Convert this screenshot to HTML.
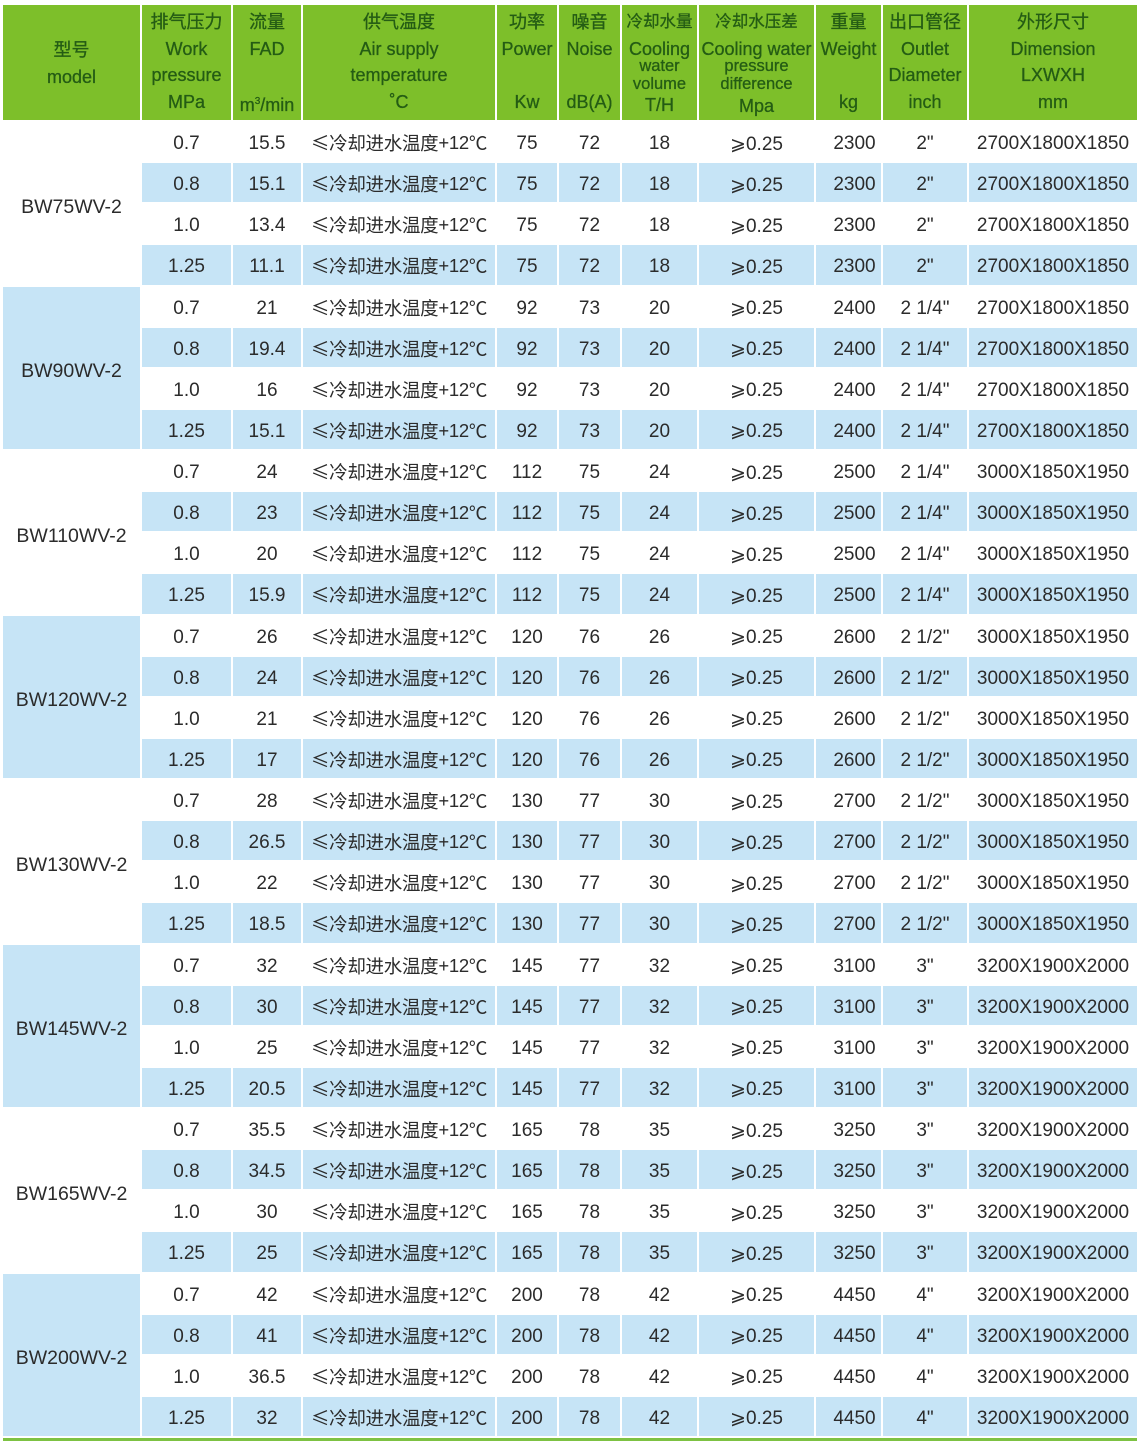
<!DOCTYPE html>
<html><head><meta charset="utf-8">
<style>
*{margin:0;padding:0;box-sizing:border-box}
body{width:1140px;height:1451px;background:#fff;position:relative;overflow:hidden;font-family:"Liberation Sans","Noto Sans CJK SC",sans-serif}
.g{position:absolute;left:3px;top:5px;display:grid;grid-template-columns:137px 89px 68px 192px 60px 61px 75px 115px 65px 84px 168px;grid-template-rows:115px repeat(32,39.125px);gap:2px}
.h{background:#7dbf2a;color:#245c14;position:relative;font-size:18px;text-align:center;-webkit-text-stroke:0.3px #245c14}
.h div{position:absolute;left:-4px;right:-4px;height:20px;line-height:20px;white-space:nowrap}
.h .s{font-size:16.5px}
.c{display:flex;align-items:center;justify-content:center;font-size:19px;color:#2b2b2b;white-space:nowrap;padding-top:5px}
.b{background:#c6e4f6}
.m{grid-row:span 4;padding-top:8px;font-size:19.5px}
.t{font-size:18.5px;letter-spacing:-0.3px;font-family:"Noto Sans CJK SC","Liberation Sans",sans-serif;padding-top:3px}
.t span{font-family:"Liberation Sans",sans-serif}
.w{padding-left:12px}
.line{position:absolute;left:3px;top:1438px;width:1134px;height:3px;background:#7dc242}
</style></head><body>
<div class="g">
<div class="h"><div style="top:35px">型号</div><div style="top:62px">model</div></div>
<div class="h"><div style="top:7px">排气压力</div><div style="top:34px">Work</div><div style="top:60px">pressure</div><div style="top:87px">MPa</div></div>
<div class="h"><div style="top:7px">流量</div><div style="top:34px">FAD</div><div style="top:87px">m<sup style="font-size:10px">3</sup>/min</div></div>
<div class="h"><div style="top:7px">供气温度</div><div style="top:34px">Air supply</div><div style="top:60px">temperature</div><div style="top:87px">˚C</div></div>
<div class="h"><div style="top:7px">功率</div><div style="top:34px">Power</div><div style="top:87px">Kw</div></div>
<div class="h"><div style="top:7px">噪音</div><div style="top:34px">Noise</div><div style="top:87px">dB(A)</div></div>
<div class="h"><div style="top:7px" class="s">冷却水量</div><div style="top:34px">Cooling</div><div style="top:51px" class="s">water</div><div style="top:69px" class="s">volume</div><div style="top:90px">T/H</div></div>
<div class="h"><div style="top:7px" class="s">冷却水压差</div><div style="top:34px">Cooling water</div><div style="top:51px" class="s">pressure</div><div style="top:69px" class="s">difference</div><div style="top:91px">Mpa</div></div>
<div class="h"><div style="top:7px">重量</div><div style="top:34px">Weight</div><div style="top:87px">kg</div></div>
<div class="h"><div style="top:7px">出口管径</div><div style="top:34px">Outlet</div><div style="top:60px">Diameter</div><div style="top:87px">inch</div></div>
<div class="h"><div style="top:7px">外形尺寸</div><div style="top:34px">Dimension</div><div style="top:60px">LXWXH</div><div style="top:87px">mm</div></div>

<div class="c m">BW75WV-2</div>
<div class="c">0.7</div><div class="c">15.5</div><div class="c t">≤冷却进水温度<span>+12</span>℃</div><div class="c">75</div><div class="c">72</div><div class="c">18</div><div class="c">⩾0.25</div><div class="c w">2300</div><div class="c">2"</div><div class="c">2700X1800X1850</div>
<div class="c b">0.8</div><div class="c b">15.1</div><div class="c b t">≤冷却进水温度<span>+12</span>℃</div><div class="c b">75</div><div class="c b">72</div><div class="c b">18</div><div class="c b">⩾0.25</div><div class="c b w">2300</div><div class="c b">2"</div><div class="c b">2700X1800X1850</div>
<div class="c">1.0</div><div class="c">13.4</div><div class="c t">≤冷却进水温度<span>+12</span>℃</div><div class="c">75</div><div class="c">72</div><div class="c">18</div><div class="c">⩾0.25</div><div class="c w">2300</div><div class="c">2"</div><div class="c">2700X1800X1850</div>
<div class="c b">1.25</div><div class="c b">11.1</div><div class="c b t">≤冷却进水温度<span>+12</span>℃</div><div class="c b">75</div><div class="c b">72</div><div class="c b">18</div><div class="c b">⩾0.25</div><div class="c b w">2300</div><div class="c b">2"</div><div class="c b">2700X1800X1850</div>

<div class="c m b">BW90WV-2</div>
<div class="c">0.7</div><div class="c">21</div><div class="c t">≤冷却进水温度<span>+12</span>℃</div><div class="c">92</div><div class="c">73</div><div class="c">20</div><div class="c">⩾0.25</div><div class="c w">2400</div><div class="c">2 1/4"</div><div class="c">2700X1800X1850</div>
<div class="c b">0.8</div><div class="c b">19.4</div><div class="c b t">≤冷却进水温度<span>+12</span>℃</div><div class="c b">92</div><div class="c b">73</div><div class="c b">20</div><div class="c b">⩾0.25</div><div class="c b w">2400</div><div class="c b">2 1/4"</div><div class="c b">2700X1800X1850</div>
<div class="c">1.0</div><div class="c">16</div><div class="c t">≤冷却进水温度<span>+12</span>℃</div><div class="c">92</div><div class="c">73</div><div class="c">20</div><div class="c">⩾0.25</div><div class="c w">2400</div><div class="c">2 1/4"</div><div class="c">2700X1800X1850</div>
<div class="c b">1.25</div><div class="c b">15.1</div><div class="c b t">≤冷却进水温度<span>+12</span>℃</div><div class="c b">92</div><div class="c b">73</div><div class="c b">20</div><div class="c b">⩾0.25</div><div class="c b w">2400</div><div class="c b">2 1/4"</div><div class="c b">2700X1800X1850</div>

<div class="c m">BW110WV-2</div>
<div class="c">0.7</div><div class="c">24</div><div class="c t">≤冷却进水温度<span>+12</span>℃</div><div class="c">112</div><div class="c">75</div><div class="c">24</div><div class="c">⩾0.25</div><div class="c w">2500</div><div class="c">2 1/4"</div><div class="c">3000X1850X1950</div>
<div class="c b">0.8</div><div class="c b">23</div><div class="c b t">≤冷却进水温度<span>+12</span>℃</div><div class="c b">112</div><div class="c b">75</div><div class="c b">24</div><div class="c b">⩾0.25</div><div class="c b w">2500</div><div class="c b">2 1/4"</div><div class="c b">3000X1850X1950</div>
<div class="c">1.0</div><div class="c">20</div><div class="c t">≤冷却进水温度<span>+12</span>℃</div><div class="c">112</div><div class="c">75</div><div class="c">24</div><div class="c">⩾0.25</div><div class="c w">2500</div><div class="c">2 1/4"</div><div class="c">3000X1850X1950</div>
<div class="c b">1.25</div><div class="c b">15.9</div><div class="c b t">≤冷却进水温度<span>+12</span>℃</div><div class="c b">112</div><div class="c b">75</div><div class="c b">24</div><div class="c b">⩾0.25</div><div class="c b w">2500</div><div class="c b">2 1/4"</div><div class="c b">3000X1850X1950</div>

<div class="c m b">BW120WV-2</div>
<div class="c">0.7</div><div class="c">26</div><div class="c t">≤冷却进水温度<span>+12</span>℃</div><div class="c">120</div><div class="c">76</div><div class="c">26</div><div class="c">⩾0.25</div><div class="c w">2600</div><div class="c">2 1/2"</div><div class="c">3000X1850X1950</div>
<div class="c b">0.8</div><div class="c b">24</div><div class="c b t">≤冷却进水温度<span>+12</span>℃</div><div class="c b">120</div><div class="c b">76</div><div class="c b">26</div><div class="c b">⩾0.25</div><div class="c b w">2600</div><div class="c b">2 1/2"</div><div class="c b">3000X1850X1950</div>
<div class="c">1.0</div><div class="c">21</div><div class="c t">≤冷却进水温度<span>+12</span>℃</div><div class="c">120</div><div class="c">76</div><div class="c">26</div><div class="c">⩾0.25</div><div class="c w">2600</div><div class="c">2 1/2"</div><div class="c">3000X1850X1950</div>
<div class="c b">1.25</div><div class="c b">17</div><div class="c b t">≤冷却进水温度<span>+12</span>℃</div><div class="c b">120</div><div class="c b">76</div><div class="c b">26</div><div class="c b">⩾0.25</div><div class="c b w">2600</div><div class="c b">2 1/2"</div><div class="c b">3000X1850X1950</div>

<div class="c m">BW130WV-2</div>
<div class="c">0.7</div><div class="c">28</div><div class="c t">≤冷却进水温度<span>+12</span>℃</div><div class="c">130</div><div class="c">77</div><div class="c">30</div><div class="c">⩾0.25</div><div class="c w">2700</div><div class="c">2 1/2"</div><div class="c">3000X1850X1950</div>
<div class="c b">0.8</div><div class="c b">26.5</div><div class="c b t">≤冷却进水温度<span>+12</span>℃</div><div class="c b">130</div><div class="c b">77</div><div class="c b">30</div><div class="c b">⩾0.25</div><div class="c b w">2700</div><div class="c b">2 1/2"</div><div class="c b">3000X1850X1950</div>
<div class="c">1.0</div><div class="c">22</div><div class="c t">≤冷却进水温度<span>+12</span>℃</div><div class="c">130</div><div class="c">77</div><div class="c">30</div><div class="c">⩾0.25</div><div class="c w">2700</div><div class="c">2 1/2"</div><div class="c">3000X1850X1950</div>
<div class="c b">1.25</div><div class="c b">18.5</div><div class="c b t">≤冷却进水温度<span>+12</span>℃</div><div class="c b">130</div><div class="c b">77</div><div class="c b">30</div><div class="c b">⩾0.25</div><div class="c b w">2700</div><div class="c b">2 1/2"</div><div class="c b">3000X1850X1950</div>

<div class="c m b">BW145WV-2</div>
<div class="c">0.7</div><div class="c">32</div><div class="c t">≤冷却进水温度<span>+12</span>℃</div><div class="c">145</div><div class="c">77</div><div class="c">32</div><div class="c">⩾0.25</div><div class="c w">3100</div><div class="c">3"</div><div class="c">3200X1900X2000</div>
<div class="c b">0.8</div><div class="c b">30</div><div class="c b t">≤冷却进水温度<span>+12</span>℃</div><div class="c b">145</div><div class="c b">77</div><div class="c b">32</div><div class="c b">⩾0.25</div><div class="c b w">3100</div><div class="c b">3"</div><div class="c b">3200X1900X2000</div>
<div class="c">1.0</div><div class="c">25</div><div class="c t">≤冷却进水温度<span>+12</span>℃</div><div class="c">145</div><div class="c">77</div><div class="c">32</div><div class="c">⩾0.25</div><div class="c w">3100</div><div class="c">3"</div><div class="c">3200X1900X2000</div>
<div class="c b">1.25</div><div class="c b">20.5</div><div class="c b t">≤冷却进水温度<span>+12</span>℃</div><div class="c b">145</div><div class="c b">77</div><div class="c b">32</div><div class="c b">⩾0.25</div><div class="c b w">3100</div><div class="c b">3"</div><div class="c b">3200X1900X2000</div>

<div class="c m">BW165WV-2</div>
<div class="c">0.7</div><div class="c">35.5</div><div class="c t">≤冷却进水温度<span>+12</span>℃</div><div class="c">165</div><div class="c">78</div><div class="c">35</div><div class="c">⩾0.25</div><div class="c w">3250</div><div class="c">3"</div><div class="c">3200X1900X2000</div>
<div class="c b">0.8</div><div class="c b">34.5</div><div class="c b t">≤冷却进水温度<span>+12</span>℃</div><div class="c b">165</div><div class="c b">78</div><div class="c b">35</div><div class="c b">⩾0.25</div><div class="c b w">3250</div><div class="c b">3"</div><div class="c b">3200X1900X2000</div>
<div class="c">1.0</div><div class="c">30</div><div class="c t">≤冷却进水温度<span>+12</span>℃</div><div class="c">165</div><div class="c">78</div><div class="c">35</div><div class="c">⩾0.25</div><div class="c w">3250</div><div class="c">3"</div><div class="c">3200X1900X2000</div>
<div class="c b">1.25</div><div class="c b">25</div><div class="c b t">≤冷却进水温度<span>+12</span>℃</div><div class="c b">165</div><div class="c b">78</div><div class="c b">35</div><div class="c b">⩾0.25</div><div class="c b w">3250</div><div class="c b">3"</div><div class="c b">3200X1900X2000</div>

<div class="c m b">BW200WV-2</div>
<div class="c">0.7</div><div class="c">42</div><div class="c t">≤冷却进水温度<span>+12</span>℃</div><div class="c">200</div><div class="c">78</div><div class="c">42</div><div class="c">⩾0.25</div><div class="c w">4450</div><div class="c">4"</div><div class="c">3200X1900X2000</div>
<div class="c b">0.8</div><div class="c b">41</div><div class="c b t">≤冷却进水温度<span>+12</span>℃</div><div class="c b">200</div><div class="c b">78</div><div class="c b">42</div><div class="c b">⩾0.25</div><div class="c b w">4450</div><div class="c b">4"</div><div class="c b">3200X1900X2000</div>
<div class="c">1.0</div><div class="c">36.5</div><div class="c t">≤冷却进水温度<span>+12</span>℃</div><div class="c">200</div><div class="c">78</div><div class="c">42</div><div class="c">⩾0.25</div><div class="c w">4450</div><div class="c">4"</div><div class="c">3200X1900X2000</div>
<div class="c b">1.25</div><div class="c b">32</div><div class="c b t">≤冷却进水温度<span>+12</span>℃</div><div class="c b">200</div><div class="c b">78</div><div class="c b">42</div><div class="c b">⩾0.25</div><div class="c b w">4450</div><div class="c b">4"</div><div class="c b">3200X1900X2000</div>
</div>
<div class="line"></div>
</body></html>
